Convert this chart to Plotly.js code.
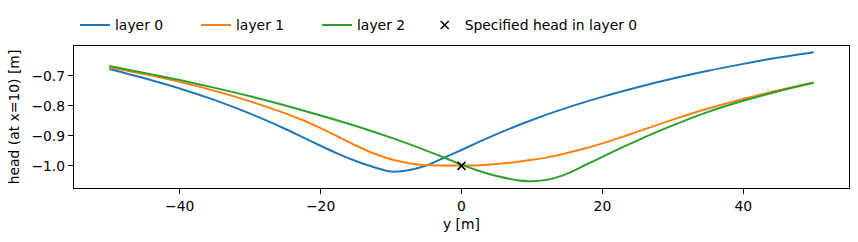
<!DOCTYPE html>
<html>
<head>
<meta charset="utf-8">
<script src="https://cdn.plot.ly/plotly-3.0.1.min.js"></script>
<style>
  html, body { margin: 0; padding: 0; background: #fff; }
  #chart { width: 858px; height: 242px; }
</style>
</head>
<body>
<div id="chart"></div>
<script>
// Head along the y-axis (at x = 10) for each aquifer layer
const yLayer0 = [-50, -45, -40, -35, -30, -25, -22.5, -20, -17.5, -15, -12.5, -10, -7.5, -5, -2.5, 0, 2.5, 5, 10, 15, 20, 25, 30, 35, 40, 45, 50];
const headLayer0 = [-0.677, -0.708, -0.742, -0.781, -0.826, -0.877, -0.905, -0.933, -0.960, -0.984, -1.004, -1.019, -1.015, -0.999, -0.973, -0.947, -0.920, -0.894, -0.847, -0.806, -0.770, -0.738, -0.709, -0.683, -0.660, -0.639, -0.621];

const yLayer1 = [-50, -45, -40, -35, -30, -25, -22.5, -20, -17.5, -15, -12.5, -10, -7.5, -5, -2.5, 0, 2.5, 5, 7.5, 10, 12.5, 15, 17.5, 20, 22.5, 25, 27.5, 30, 35, 40, 45, 50];
const headLayer1 = [-0.671, -0.694, -0.720, -0.750, -0.785, -0.825, -0.848, -0.874, -0.903, -0.932, -0.958, -0.978, -0.991, -0.997, -0.999, -0.999, -0.998, -0.994, -0.988, -0.980, -0.970, -0.957, -0.942, -0.925, -0.906, -0.886, -0.866, -0.846, -0.809, -0.777, -0.748, -0.722];

const yLayer2 = [-50, -45, -40, -35, -30, -25, -20, -15, -10, -5, -2.5, 0, 2.5, 5, 7.5, 10, 12.5, 15, 17.5, 20, 22.5, 25, 27.5, 30, 35, 40, 45, 50];
const headLayer2 = [-0.667, -0.690, -0.714, -0.740, -0.768, -0.799, -0.832, -0.867, -0.906, -0.949, -0.972, -0.996, -1.017, -1.034, -1.046, -1.051, -1.045, -1.026, -0.998, -0.970, -0.942, -0.915, -0.889, -0.865, -0.820, -0.783, -0.751, -0.723];

// Fixed-head point
const fixedY = [0];
const fixedHead = [-1.0];

const seriesNames = ['layer 0', 'layer 1', 'layer 2', 'Specified head in layer 0'];
const xTicks = [-40, -20, 0, 20, 40];
const yTicks = [-1.0, -0.9, -0.8, -0.7];

const font = { family: 'DejaVu Sans, sans-serif', size: 13.9, color: '#000' };

function layerTrace(x, y, name, color) {
  return {
    x: x, y: y, name: name, type: 'scatter', mode: 'lines',
    line: { color: color, width: 2, shape: 'spline', smoothing: 0.8 },
    legend: 'legend', hoverinfo: 'skip'
  };
}

const traces = [
  layerTrace(yLayer0, headLayer0, seriesNames[0], '#1f77b4'),
  layerTrace(yLayer1, headLayer1, seriesNames[1], '#ff7f0e'),
  layerTrace(yLayer2, headLayer2, seriesNames[2], '#2ca02c'),
  {
    x: fixedY, y: fixedHead, name: seriesNames[3], type: 'scatter', mode: 'markers',
    marker: { symbol: 'x-thin', size: 8, color: '#000', line: { color: '#000', width: 1.5 } },
    legend: 'legend2', hoverinfo: 'skip'
  }
];

const axisCommon = {
  showgrid: false, zeroline: false,
  showline: true, mirror: true, linecolor: '#000', linewidth: 1.1,
  ticks: 'outside', ticklen: 5, tickwidth: 1.1, tickcolor: '#000',
  tickfont: font
};

const legendCommon = {
  orientation: 'h', xanchor: 'left', y: 1.0325, yanchor: 'bottom',
  font: font, bgcolor: 'rgba(0,0,0,0)', borderwidth: 0, traceorder: 'normal'
};

const layout = {
  width: 858, height: 242,
  margin: { l: 74, r: 9, t: 34, b: 54, pad: 0 },
  paper_bgcolor: '#fff', plot_bgcolor: '#fff',
  font: font,
  showlegend: true,
  legend: Object.assign({}, legendCommon, { x: 0.0013, entrywidth: 76, entrywidthmode: 'pixels' }),
  legend2: Object.assign({}, legendCommon, { x: 0.4525 }),
  xaxis: Object.assign({}, axisCommon, {
    range: [-55, 55], tickvals: xTicks, tickformat: 'd',
    title: { text: 'y [m]', font: font, standoff: 6 }
  }),
  yaxis: Object.assign({}, axisCommon, {
    range: [-1.0738, -0.6004], tickvals: yTicks, tickformat: '.1f',
    title: { text: 'head (at x=10) [m]', font: font, standoff: 8 }
  })
};

Plotly.newPlot('chart', traces, layout, { staticPlot: true, displayModeBar: false });
</script>
</body>
</html>
